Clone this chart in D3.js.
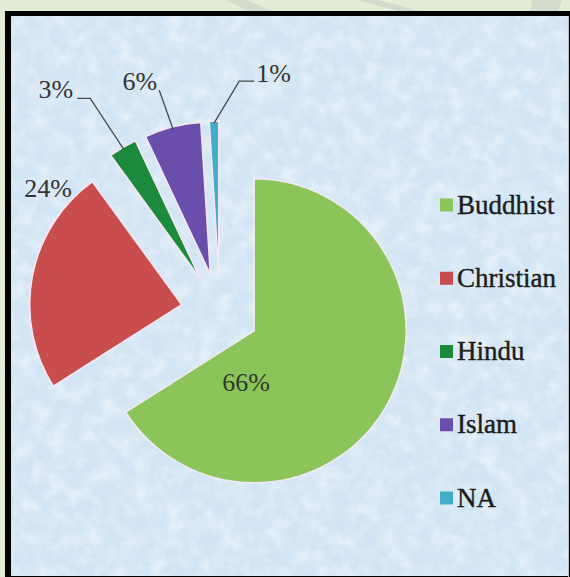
<!DOCTYPE html>
<html>
<head>
<meta charset="utf-8">
<script src="https://cdn.jsdelivr.net/npm/d3@7"></script>
<style>
  html, body { margin: 0; padding: 0; background: #e3edd5; }
  svg { display: block; }
  text { font-family: "Liberation Serif", "Times New Roman", serif; }
</style>
</head>
<body>
<div id="chart"></div>
<script>
const religions = ["Buddhist", "Christian", "Hindu", "Islam", "NA"];
const shares = [66, 24, 3, 6, 1];
const colores = ["#8bc55a", "#c84d4c", "#1b8a3c", "#6a4eab", "#41adc8"];

const width = 570;
const height = 577;
const centro = { x: 220, y: 312 };
const radio = 152;
const explode = 39;

// where each % label sits: [angle in degrees, distance from slice apex]
const etiquetas = [[189, 52], [311, 177], [328.6, 211], [344.5, 191], [6.1, 193]];

const svg = d3.select("#chart")
  .append("svg")
  .attr("width", width)
  .attr("height", height);

const defs = svg.append("defs");
const f1 = defs.append("filter").attr("id", "manchas").attr("x", 0).attr("y", 0).attr("width", 1).attr("height", 1);
f1.append("feTurbulence").attr("type", "fractalNoise").attr("baseFrequency", 0.06).attr("numOctaves", 4).attr("seed", 7);
f1.append("feColorMatrix").attr("type", "matrix")
  .attr("values", "0 0 0 0 1  0 0 0 0 1  0 0 0 0 1  1.0 0 0 0 -0.4");
const f2 = defs.append("filter").attr("id", "manchas2").attr("x", 0).attr("y", 0).attr("width", 1).attr("height", 1);
f2.append("feTurbulence").attr("type", "fractalNoise").attr("baseFrequency", 0.11).attr("numOctaves", 3).attr("seed", 2);
f2.append("feColorMatrix").attr("type", "matrix")
  .attr("values", "0 0 0 0 0.72  0 0 0 0 0.83  0 0 0 0 0.94  0 1.0 0 0 -0.4");

// faint watermark bits above the frame
const rayas = [
  [[226, 0], [248, 0], [270, 11], [248, 11]],
  [[356, 0], [378, 0], [420, 11], [398, 11]],
  [[532, 0], [562, 0], [558, 11], [530, 11]]
];
svg.selectAll(".raya")
  .data(rayas)
  .enter()
  .append("polygon")
  .attr("points", d => d.map(p => p.join(",")).join(" "))
  .attr("fill", "#d3dccc");

// frame and textured background
svg.append("rect")
  .attr("x", 5).attr("y", 11)
  .attr("width", width - 5).attr("height", height - 11)
  .attr("fill", "#000");
["#d2e4f3", "url(#manchas2)", "url(#manchas)"].forEach((capa, k) => {
  const r = svg.append("rect")
    .attr("x", 11).attr("y", 16)
    .attr("width", width - 12).attr("height", height - 17);
  if (k === 0) r.attr("fill", capa);
  else r.attr("filter", capa);
});
svg.append("line")
  .attr("x1", 568.5).attr("x2", 568.5).attr("y1", 16).attr("y2", height)
  .attr("stroke", "#b7c4cf").attr("stroke-width", 1);

const data = religions.map((r, i) => ({ religion: r, share: shares[i], color: colores[i] }));

const pie = d3.pie()
  .sort(null)
  .value(d => d.share);

const arc = d3.arc()
  .innerRadius(0)
  .outerRadius(radio);

const arcos = pie(data);

const apex = a => {
  const m = (a.startAngle + a.endAngle) / 2;
  return [centro.x + explode * Math.sin(m), centro.y - explode * Math.cos(m)];
};

const g = svg.append("g");

g.selectAll(".slice")
  .data(arcos)
  .enter()
  .append("path")
  .attr("class", "slice")
  .attr("transform", d => `translate(${apex(d)})`)
  .attr("d", arc)
  .attr("fill", d => d.data.color)
  .attr("stroke", "#f4e8f2")
  .attr("stroke-width", 1.5);

// labels
const punto = (d, i) => {
  const [ax, ay] = apex(d);
  const ang = etiquetas[i][0] * Math.PI / 180;
  return [ax + etiquetas[i][1] * Math.sin(ang), ay - etiquetas[i][1] * Math.cos(ang)];
};
const medio = d => {
  const [ax, ay] = apex(d);
  const m = (d.startAngle + d.endAngle) / 2;
  return [ax + (radio - 2) * Math.sin(m), ay - (radio - 2) * Math.cos(m)];
};

arcos.forEach((d, i) => {
  const [px, py] = punto(d, i);
  if (i < 2) {
    g.append("text")
      .attr("x", px).attr("y", py + (i === 0 ? 9 : 8))
      .attr("text-anchor", "middle")
      .style("font-size", "26px")
      .style("fill", i === 0 ? "#2e3a2a" : "#333")
      .text(d.data.share + "%");
  } else {
    const [mx, my] = medio(d);
    const pts = [[mx, my], [px, py]];
    let tx = px - 2, anchor = "end";
    if (i === 2) { pts.push([px - 13, py]); tx = px - 17; }
    if (i === 4) { pts.push([px + 15, py]); tx = px + 17; anchor = "start"; }
    g.append("polyline")
      .attr("points", pts.map(p => p.join(",")).join(" "))
      .attr("fill", "none")
      .attr("stroke", "#4a4a4a")
      .attr("stroke-width", 1.3);
    g.append("text")
      .attr("x", tx).attr("y", py + (i === 4 ? 1 : 0))
      .attr("text-anchor", anchor)
      .style("font-size", "26px")
      .style("fill", "#333")
      .text(d.data.share + "%");
  }
});

// legend
const yLeyenda = d3.scalePoint()
  .domain(religions)
  .range([205, 498]);

const leyenda = svg.append("g");
leyenda.selectAll("rect")
  .data(data)
  .enter()
  .append("rect")
  .attr("x", 440)
  .attr("y", d => yLeyenda(d.religion) - 6.5)
  .attr("width", 13)
  .attr("height", 13)
  .attr("fill", d => d.color);
leyenda.selectAll("text")
  .data(data)
  .enter()
  .append("text")
  .attr("x", 457)
  .attr("y", d => yLeyenda(d.religion) + 8.5)
  .style("font-size", "27px")
  .style("fill", "#1c1c1c")
  .style("stroke", "#1c1c1c")
  .style("stroke-width", 0.4)
  .text(d => d.religion);
</script>
</body>
</html>
